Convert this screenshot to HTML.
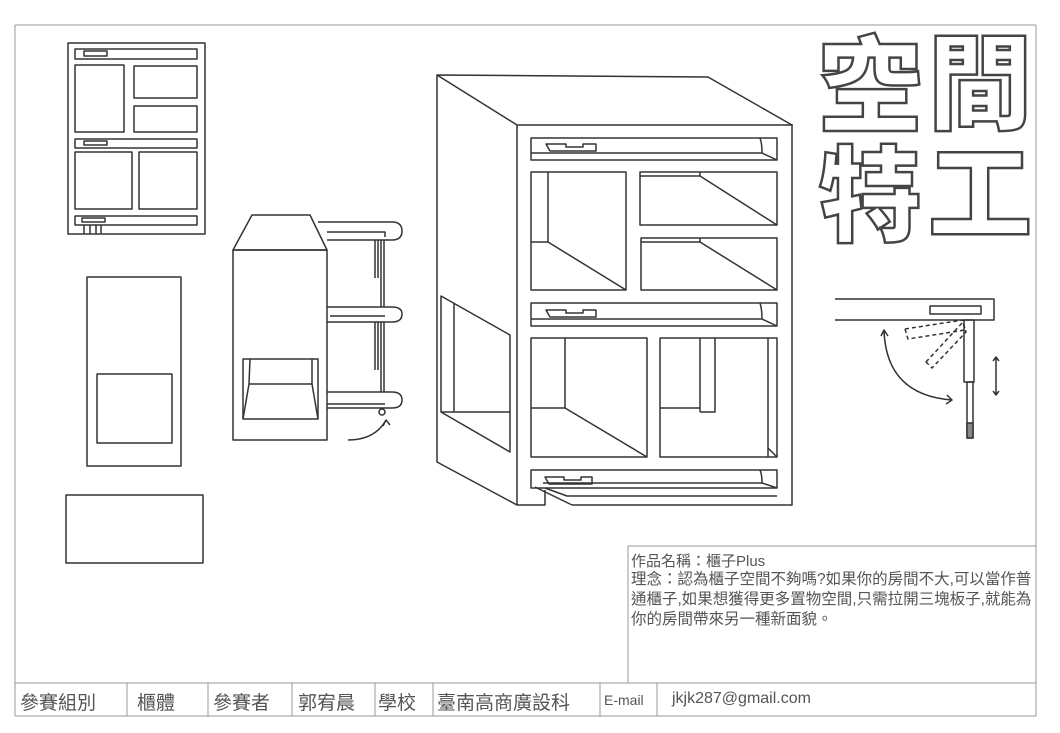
<!DOCTYPE html>
<html><head><meta charset="utf-8"><style>
html,body{margin:0;padding:0;background:#fff;}
body{width:1060px;height:733px;position:relative;overflow:hidden;font-family:"Liberation Sans","Noto Sans CJK TC",sans-serif;}
svg{position:absolute;left:0;top:0;}
.t{position:absolute;color:#555;font-family:"Liberation Sans","Noto Sans CJK TC",sans-serif;white-space:nowrap;}
.big{position:absolute;font-family:"Noto Sans CJK TC",sans-serif;font-weight:900;font-size:104px;line-height:104px;color:#fff;-webkit-text-stroke:2.5px #444;}
</style></head><body>
<svg width="1060" height="733" viewBox="0 0 1060 733" fill="none" stroke="#333" stroke-width="1.5" stroke-linejoin="round">
<g stroke="#999" stroke-width="1">
<line x1="15" y1="25" x2="1036" y2="25"/>
<line x1="15" y1="25" x2="15" y2="716"/>
<line x1="1036" y1="25" x2="1036" y2="716"/>
<line x1="15" y1="716" x2="1036" y2="716"/>
<line x1="15" y1="683" x2="1036" y2="683"/>
<rect x="628" y="546" width="408" height="137"/>
<line x1="127" y1="683" x2="127" y2="716"/><line x1="208" y1="683" x2="208" y2="716"/>
<line x1="292" y1="683" x2="292" y2="716"/><line x1="375" y1="683" x2="375" y2="716"/>
<line x1="433" y1="683" x2="433" y2="716"/><line x1="600" y1="683" x2="600" y2="716"/>
<line x1="657" y1="683" x2="657" y2="716"/>
</g>
<rect x="68" y="43" width="137" height="191"/>
<rect x="75" y="49" width="122" height="10"/><rect x="84" y="51" width="23" height="5"/>
<rect x="75" y="65" width="49" height="67"/>
<rect x="134" y="66" width="63" height="32"/><rect x="134" y="106" width="63" height="26"/>
<rect x="75" y="139" width="122" height="9"/><rect x="84" y="141" width="23" height="4"/>
<rect x="75" y="152" width="57" height="57"/><rect x="139" y="152" width="58" height="57"/>
<rect x="75" y="216" width="122" height="9"/><rect x="82" y="218" width="23" height="4"/>
<path d="M84 225V234M90 225V234M96 225V234M101 225V234"/>
<rect x="87" y="277" width="94" height="189"/>
<rect x="97" y="374" width="75" height="69"/>
<rect x="66" y="495" width="137" height="68"/>
<path d="M233 250L252 215H310L327 250Z"/>
<rect x="233" y="250" width="94" height="190"/>
<rect x="243" y="359" width="75" height="60"/>
<path d="M250 359L249 384M312 359V384M243 419L249 384H312L318 419"/>
<g>
<path d="M318 222H392Q402 222 402 231Q402 240 392 240H327"/>
<path d="M327 232H385V237"/>
<path d="M327 307H392Q402 307 402 314Q402 322 392 322H327"/>
<path d="M330 316H385"/>
<path d="M327 392H392Q402 392 402 400Q402 408 392 408H327"/>
<path d="M327 404H385"/>
<path d="M375 240V278M378 240V278M381 240V307M384 240V307"/>
<path d="M375 322V370M378 322V370M381 322V392M384 322V392"/>
<circle cx="382" cy="412" r="3"/>
<path d="M348 440Q375 440 386 420M383 426L386 420L390 425"/>
</g>
<path d="M437 75L517 125H792L708 77Z"/>
<path d="M437 75V462L517 505V125"/>
<path d="M517 505H545V490M572 505H792V124"/>
<path d="M535 487L572 505M545 488L567 496H777"/>
<path d="M441 296L510 335V452L441 412Z"/>
<path d="M454 303V412H510M441 412L454 412"/>
<rect x="531" y="138" width="246" height="22"/>
<path d="M531 153H762Q762 143 760 138M762 153L777 160"/>
<path d="M546 144H566V147H583V144H596V151H550Z"/>
<rect x="531" y="172" width="95" height="118"/>
<path d="M548 172V242H531M548 242L626 290"/>
<rect x="640" y="172" width="137" height="53"/>
<path d="M640 176H700L777 225M700 172V176"/>
<rect x="641" y="238" width="136" height="52"/>
<path d="M641 242H700L777 290M700 238V242"/>
<rect x="531" y="303" width="246" height="23"/>
<path d="M531 319H762Q762 309 760 303M762 319L777 326"/>
<path d="M546 310H566V313H583V310H596V317H550Z"/>
<rect x="531" y="338" width="116" height="119"/>
<path d="M565 338V408H531M565 408L647 457"/>
<rect x="660" y="338" width="117" height="119"/>
<path d="M700 338V408H660M715 338V412H700M700 408V412M768 338V448L777 457M768 448V457"/>
<rect x="531" y="470" width="246" height="18"/>
<path d="M543 483H762Q762 474 760 470M762 483L777 488"/>
<path d="M545 477H564V480H581V477H592V484H549Z"/>
<path d="M835 299H994V320H835"/>
<rect x="930" y="306" width="51" height="8"/>
<rect x="964" y="320" width="10" height="62"/>
<rect x="967" y="382" width="6" height="56"/>
<rect x="967" y="423" width="6" height="15" fill="#888"/>
<g stroke-dasharray="4 3">
<path d="M905 329L963 320L965 330L908 339Z"/>
<path d="M926 362L963 322L966 332L932 368Z"/>
</g>
<path d="M884 330Q886 395 952 400M947 395L952 400L946 404M881 336L884 330L888 336"/>
<path d="M996 357V395M993 361L996 357L999 361M993 391L996 395L999 391"/>
</svg>
<div class="big" style="left:818px;top:26px;">空</div>
<div class="big" style="left:928px;top:24px;">間</div>
<div class="big" style="left:818px;top:136px;">特</div>
<div class="big" style="left:928px;top:134px;">工</div>
<div class="t" style="left:631px;top:550px;font-size:15px;">作品名稱：櫃子Plus</div>
<div class="t" style="left:631px;top:570px;font-size:15.5px;line-height:20px;width:404px;white-space:normal;">理念：認為櫃子空間不夠嗎?如果你的房間不大,可以當作普通櫃子,如果想獲得更多置物空間,只需拉開三塊板子,就能為你的房間帶來另一種新面貌。</div>
<div class="t" style="left:20px;top:688px;font-size:19px;">參賽組別</div>
<div class="t" style="left:137px;top:688px;font-size:19px;">櫃體</div>
<div class="t" style="left:213px;top:688px;font-size:19px;">參賽者</div>
<div class="t" style="left:298px;top:688px;font-size:19px;">郭宥晨</div>
<div class="t" style="left:378px;top:688px;font-size:19px;">學校</div>
<div class="t" style="left:437px;top:688px;font-size:19px;">臺南高商廣設科</div>
<div class="t" style="left:604px;top:692px;font-size:14px;">E-mail</div>
<div class="t" style="left:672px;top:690px;font-size:16px;">jkjk287@gmail.com</div>
</body></html>
